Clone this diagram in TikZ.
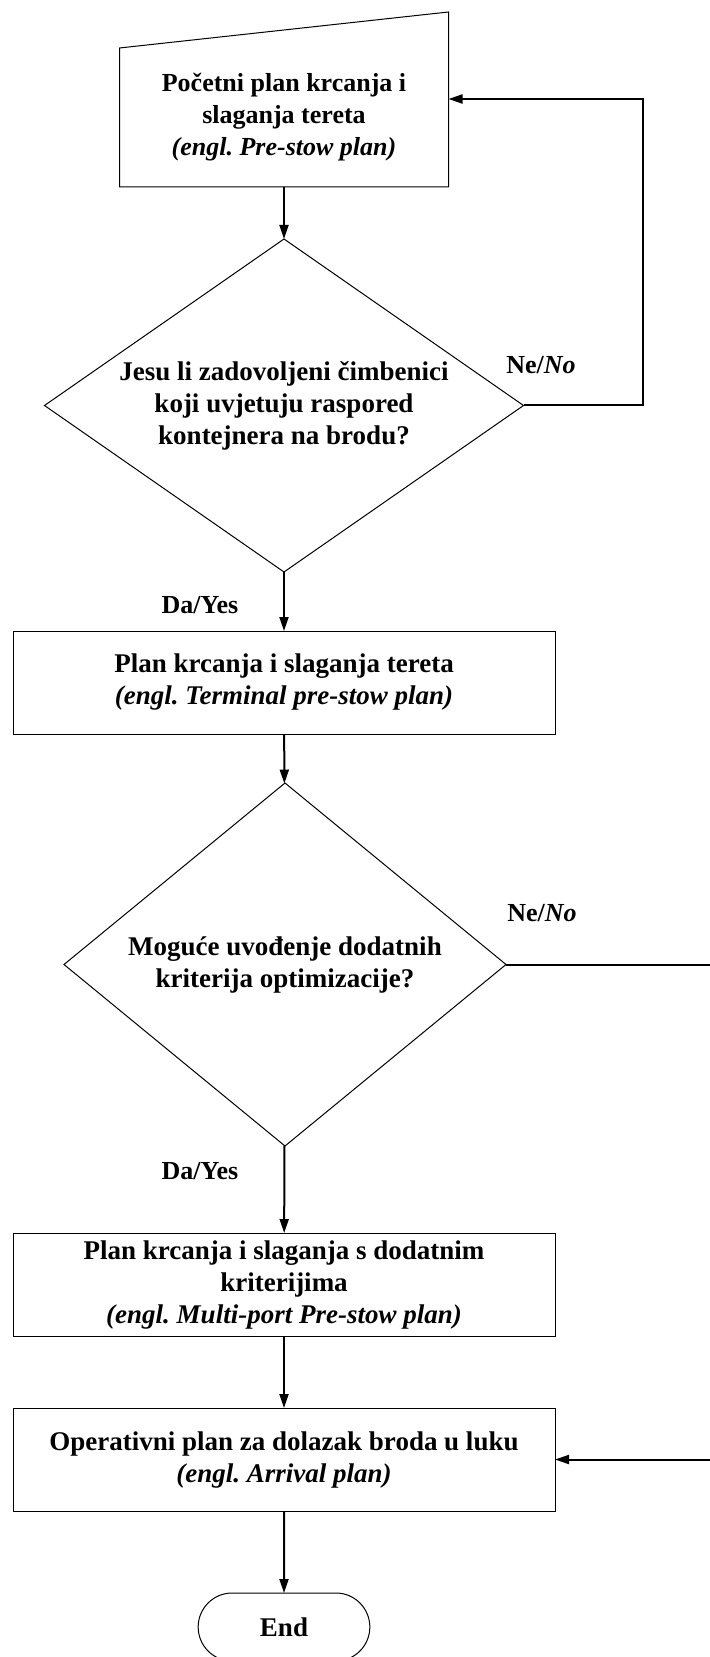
\documentclass[tikz,border=0pt]{standalone}
\usepackage{fontspec}
\setmainfont{Liberation Serif}
\usetikzlibrary{arrows.meta,shapes.geometric,shapes.misc}

\begin{document}
\frenchspacing
\begin{tikzpicture}
   [
      x=0.5pt, y=-0.5pt,
      >={Triangle[length=7pt,width=4.5pt]},
      every node/.style={font=\fontsize{13.5}{16}\selectfont\bfseries},
      plan/.style={rectangle, draw, line width=0.5pt, inner sep=0pt, outer sep=0pt,
      minimum width=271pt, minimum height=51.5pt, align=center},
      decision/.style={diamond, draw, line width=0.5pt, inner sep=0pt, outer sep=0pt,
      align=center},
      terminal/.style={rounded rectangle, draw, line width=0.5pt, outer sep=0pt,
      minimum width=92.5pt, minimum height=34pt},
      answer/.style={font=\fontsize{13}{16}\selectfont\bfseries},
      flow/.style={->, line width=1pt}
   ]
   \useasboundingbox (0,0) rectangle (710,1657);

   \node[inner sep=0pt, outer sep=0pt, minimum width=164.5pt, minimum height=69.5pt,
      align=center, font=\fontsize{13}{16}\selectfont\bfseries] (prestow) at (284,117.5)
      {Početni plan krcanja i\\slaganja tereta\\\textit{(engl. Pre-stow plan)}};
   \draw[line width=0.5pt] (prestow.south west) -- (prestow.south east)
      -- ([yshift=18pt]prestow.north east) -- (prestow.north west) -- cycle;

   \node[decision, aspect=1.44, minimum width=239.5pt, minimum height=166.5pt]
      (factors) at (284,405.5)
      {Jesu li zadovoljeni čimbenici\\koji uvjetuju raspored\\kontejnera na brodu?};
   \node[plan] (terminalplan) at (284,682.5)
      {Plan krcanja i slaganja tereta\\\textit{(engl. Terminal pre-stow plan)}};
   \node[decision, aspect=1.22, minimum width=221pt, minimum height=181.5pt]
      (criteria) at (285,964.5)
      {Moguće uvođenje dodatnih\\kriterija optimizacije?};
   \node[plan] (multiport) at (284,1284.5)
      {Plan krcanja i slaganja s dodatnim\\kriterijima\\\textit{(engl. Multi-port Pre-stow plan)}};
   \node[plan] (arrival) at (284,1459.5)
      {Operativni plan za dolazak broda u luku\\\textit{(engl. Arrival plan)}};
   \node[terminal] (end) at (284,1627) {End};

   % answers
   \node[answer] (no1) at (541,365) {Ne/\textit{No}};
   \node[answer] (yes1) at (200,605) {Da/Yes};
   \node[answer] (no2) at (542,913) {Ne/\textit{No}};
   \node[answer] (yes2) at (200,1171) {Da/Yes};

   \coordinate (loop) at (643,99);
   \coordinate (edge) at (713,964.5);

   \draw[flow] (prestow) -- (factors);
   \draw[flow] (factors) -- (terminalplan);
   \draw[flow] (factors.east) -| (loop) -- (prestow.east |- loop);
   \draw[flow] (terminalplan) -- (criteria);
   \draw[flow] (criteria) -- (multiport);
   \draw[flow] (criteria.east) -- (edge) |- (arrival.east);
   \draw[flow] (multiport) -- (arrival);
   \draw[flow] (arrival) -- (end);
\end{tikzpicture}
\end{document}
